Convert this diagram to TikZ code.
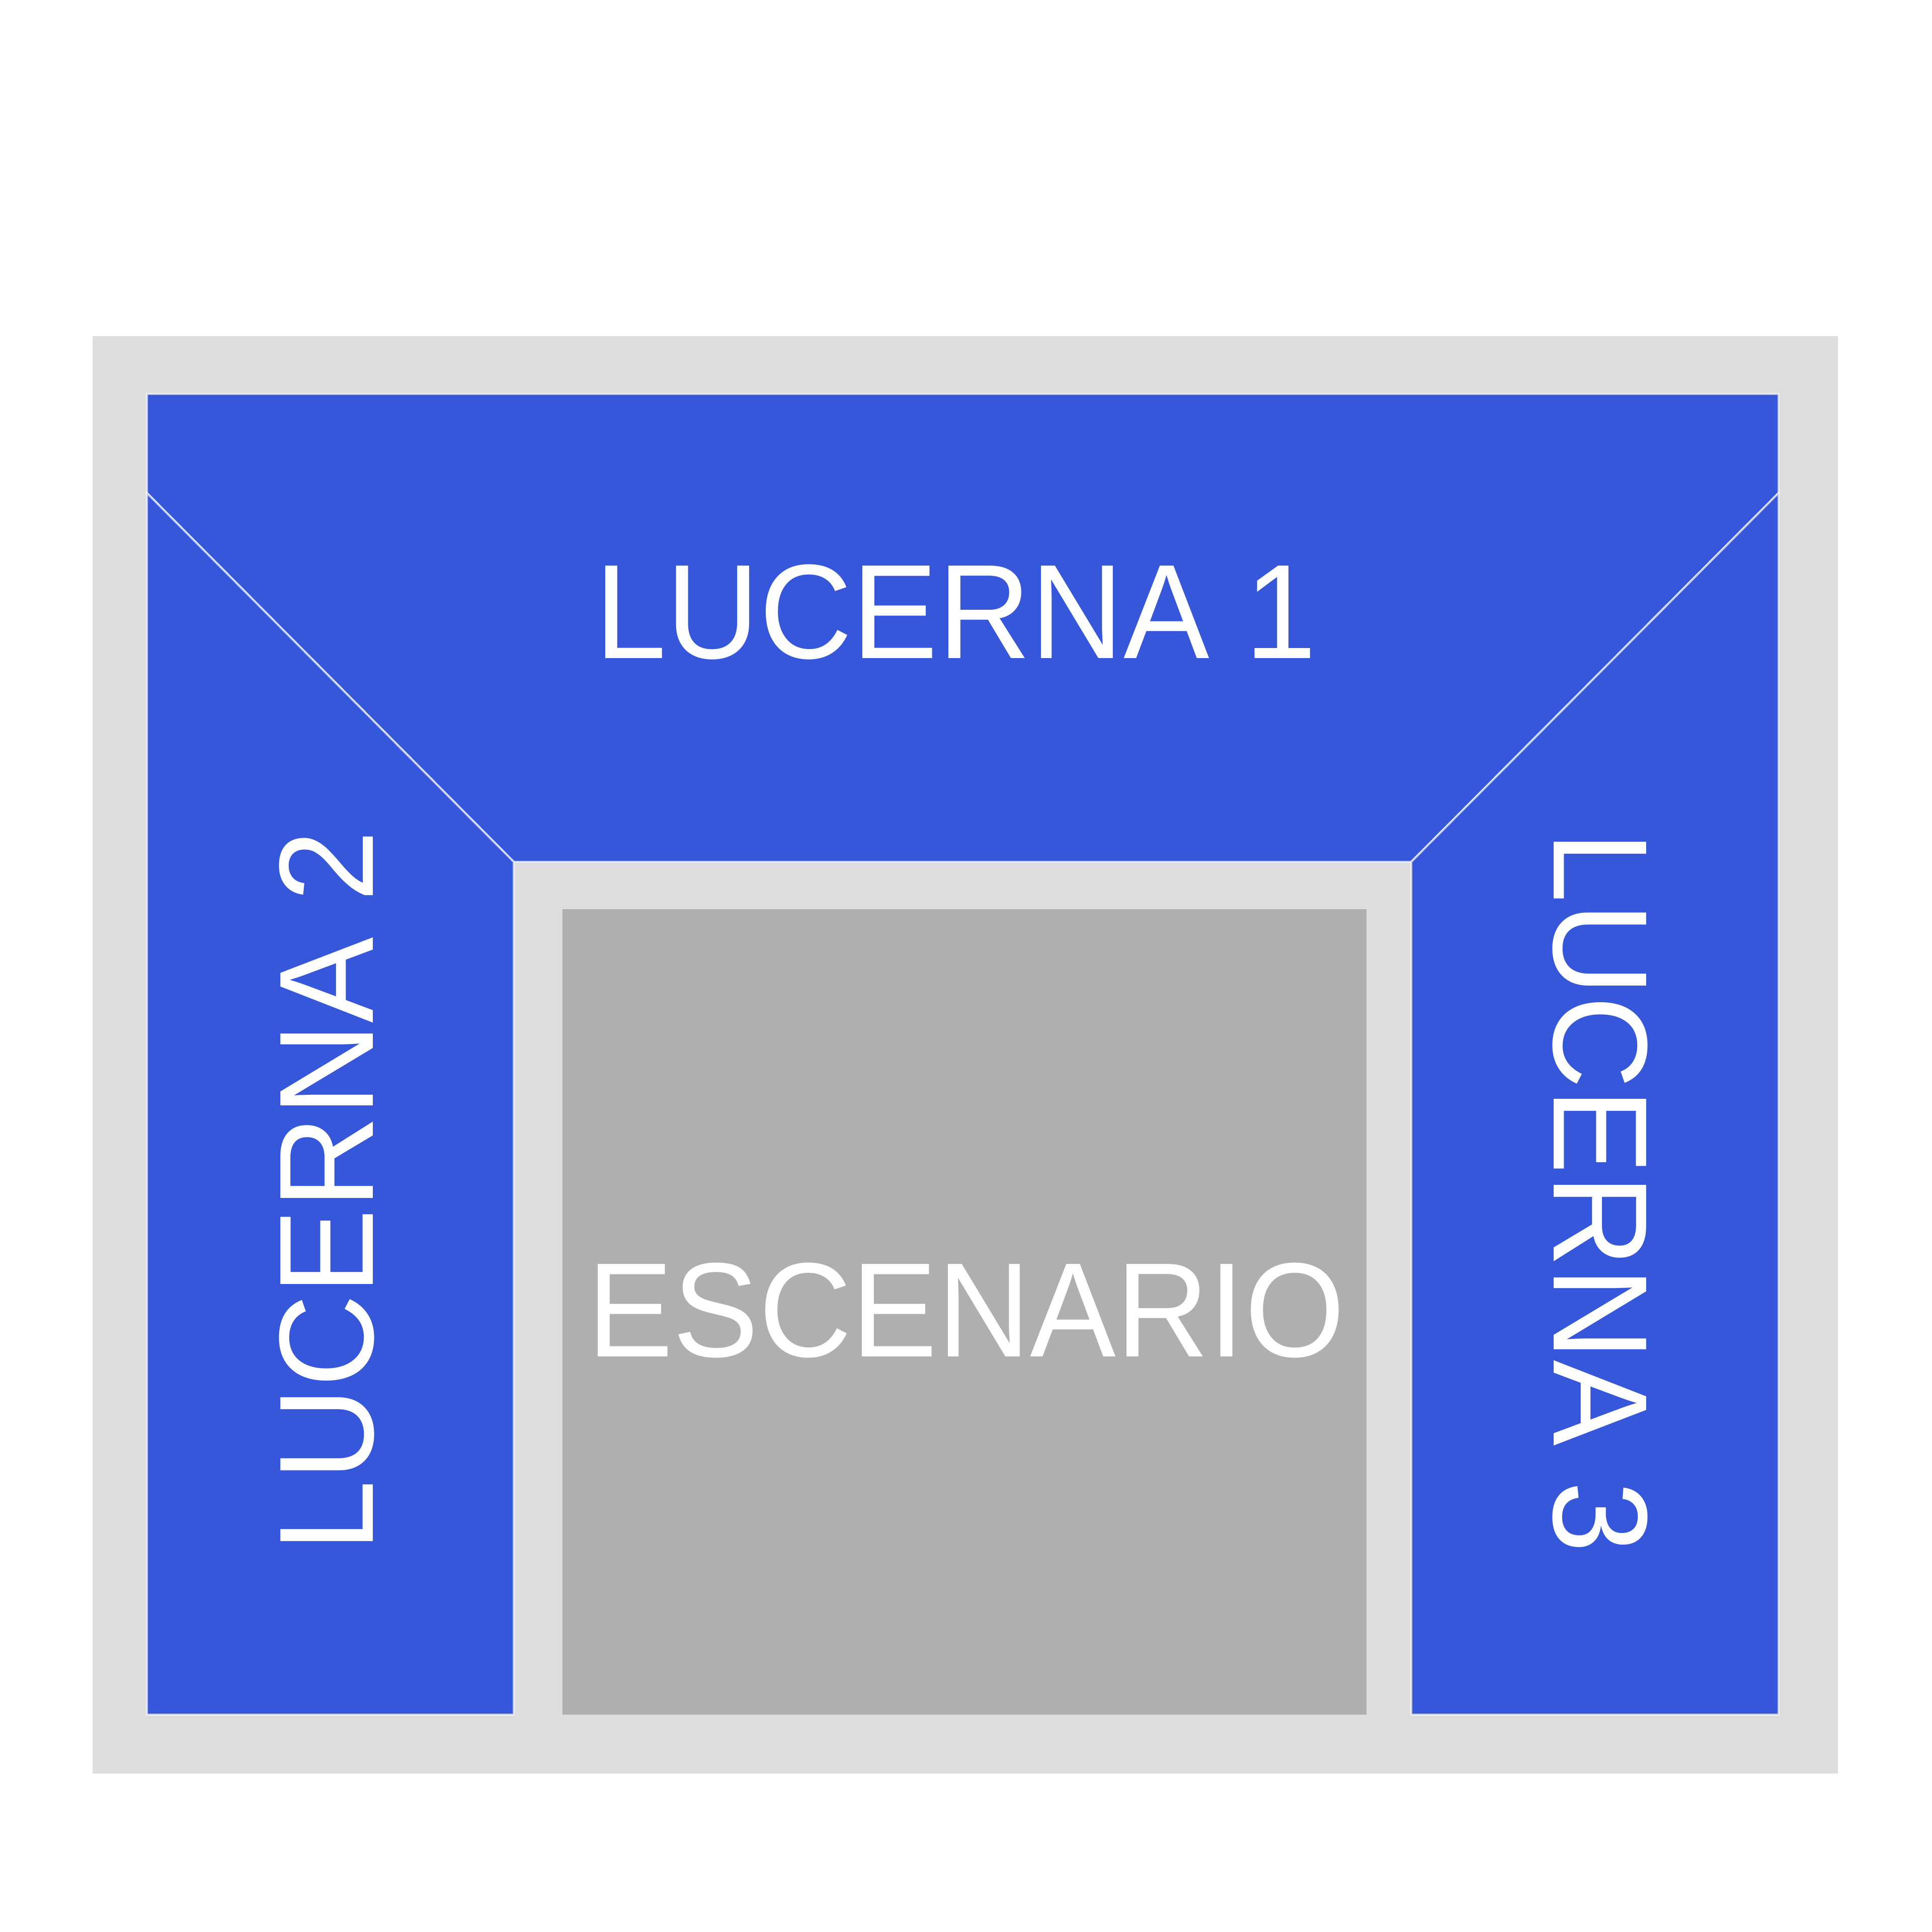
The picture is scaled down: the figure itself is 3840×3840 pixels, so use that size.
\documentclass[tikz,border=0pt]{standalone}
\usepackage{fontspec}
\setmainfont{Liberation Sans}
\usepackage{xcolor}
\usepackage{graphicx}
\usetikzlibrary{positioning}
\definecolor{Lucerna}{HTML}{3757DB}
\definecolor{Pasillo}{HTML}{DDDDDD}
\definecolor{Escena}{HTML}{AFAFAF}
\newcommand{\alto}[1]{\scalebox{1}[1.045]{#1}}
\tikzset{
  zone/.style={fill=Lucerna, draw=white, draw opacity=0.65, line width=0.4mm, line join=miter},
  rotulo/.style={text=white, font=\fontsize{72.7}{80}\selectfont, inner sep=0pt}
}

\begin{document}
\begin{tikzpicture}[x=0.01cm, y=0.01cm]
        \useasboundingbox[fill=white] (0,0) rectangle (3840,3840);
        % gray frame
        \fill[Pasillo] (184,315) rectangle (3653,3172);

        % blue zones
        \draw[zone] (292,3057) -- (3535,3057) -- (3535,2860) -- (2805,2127) -- (1021,2127) -- (292,2860) -- cycle;
        \draw[zone] (292,2860) -- (1021,2127) -- (1021,432) -- (292,432) -- cycle;
        \draw[zone] (3535,2860) -- (2805,2127) -- (2805,432) -- (3535,432) -- cycle;

        % stage
        \fill[Escena] (1118,2033) rectangle (2716,432);

        % labels
        \node[rotulo] (L1) at (1900,2623) {\alto{LUCERNA 1}};
        \node[rotulo, rotate=90] (L2) at (650,1473) {\alto{LUCERNA 2}};
        \node[rotulo, rotate=-90] (L3) at (3180,1470) {\alto{LUCERNA 3}};
        \node[rotulo] (Esc) at (1920,1235) {\alto{ESCENARIO}};
\end{tikzpicture}
\end{document}
